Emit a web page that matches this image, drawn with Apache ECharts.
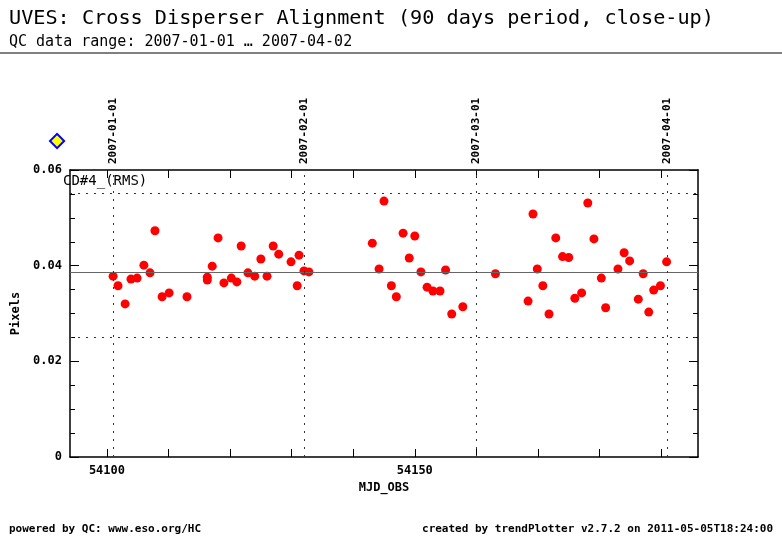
<!DOCTYPE html>
<html><head><meta charset="utf-8">
<script src="https://cdn.jsdelivr.net/npm/echarts@6/dist/echarts.min.js"></script>
<style>body{margin:0;background:#fff}#c{width:782px;height:542px}</style>
</head><body><div id="c"></div>
<script>
const mjd = [54101.0,54101.8,54102.95,54103.9,54104.9,54106.0,54107.0,54107.8,54108.96,54110.1,54113.0,54116.3,54116.3,54117.1,54118.05,54119.0,54120.2,54121.1,54121.8,54122.9,54124.0,54125.0,54126.0,54127.0,54127.9,54129.9,54130.9,54131.2,54132.0,54132.8,54143.1,54144.2,54145.0,54146.2,54147.0,54148.1,54149.1,54150.0,54151.0,54152.0,54152.95,54154.1,54155.0,54156.0,54157.8,54163.1,54168.4,54169.2,54169.9,54170.8,54171.8,54172.9,54174.0,54175.0,54176.0,54177.1,54178.1,54179.1,54180.3,54181.0,54183.0,54184.0,54184.9,54186.3,54187.1,54188.0,54188.8,54189.9,54190.9];
const rms = [0.0378,0.0358,0.0320,0.0372,0.0374,0.0401,0.0385,0.0473,0.0335,0.0343,0.0335,0.0376,0.0370,0.0399,0.0458,0.0364,0.0374,0.0366,0.0441,0.0385,0.0378,0.0414,0.0378,0.0441,0.0424,0.0408,0.0358,0.0422,0.0389,0.0387,0.0447,0.0393,0.0535,0.0358,0.0335,0.0468,0.0416,0.0462,0.0387,0.0355,0.0347,0.0347,0.0391,0.0299,0.0314,0.0383,0.0326,0.0508,0.0393,0.0358,0.0299,0.0458,0.0419,0.0417,0.0332,0.0343,0.0531,0.0456,0.0374,0.0312,0.0393,0.0427,0.0410,0.0330,0.0383,0.0303,0.0349,0.0358,0.0408];
const dateLines = [[54101,'2007-01-01'],[54132,'2007-02-01'],[54160,'2007-03-01'],[54191,'2007-04-01']];
const meanVal = 0.0387, upperLim = 0.0552, lowerLim = 0.0251;
const xTicks = [54100,54110,54120,54130,54140,54150,54160,54170,54180,54190];
const xLabels = [54100,54150];

const chart = echarts.init(document.getElementById('c'));
const mono = 'DejaVu Sans Mono';
const bold = {fontFamily:mono,fontSize:12,fontWeight:'bold',color:'#000'};
const xBase = {type:'value',min:54094,max:54196,splitLine:{show:false},
  axisLine:{show:true,onZero:false,lineStyle:{color:'#000',width:1.5}},
  axisTick:{customValues:xTicks,inside:true,length:8,lineStyle:{color:'#000'}}};
const yBase = {type:'value',min:0,max:0.06,interval:0.02,splitLine:{show:false},
  axisLine:{show:true,onZero:false,lineStyle:{color:'#000',width:1.5}},
  axisTick:{inside:true,length:9,lineStyle:{color:'#000'}},
  minorTick:{show:true,splitNumber:4,length:5,lineStyle:{color:'#000'}}};
chart.setOption({
  animation:false,
  title:[
    {text:'UVES: Cross Disperser Alignment (90 days period, close-up)',left:4,top:4,textStyle:{fontFamily:mono,fontSize:20.2,fontWeight:'normal',color:'#000'}},
    {text:'QC data range: 2007-01-01 … 2007-04-02',left:4,top:30,textStyle:{fontFamily:mono,fontSize:15,fontWeight:'normal',color:'#000'}},
    {text:'powered by QC: www.eso.org/HC',left:4,top:519,textStyle:{fontFamily:mono,fontSize:11,fontWeight:'bold',color:'#000'}},
    {text:'created by trendPlotter v2.7.2 on 2011-05-05T18:24:00',right:4,top:519,textStyle:{fontFamily:mono,fontSize:11,fontWeight:'bold',color:'#000'}}
  ],
  graphic:[
    {type:'line',shape:{x1:0,y1:53,x2:782,y2:53},style:{stroke:'#000',lineWidth:1}},
    {type:'rect',rotation:Math.PI/4,x:50,y:141,shape:{x:0,y:0,width:10,height:10},style:{fill:'#ffff00',stroke:'#0000ff',lineWidth:2}},
    {type:'text',left:63,top:174,style:{text:'CD#4_(RMS)',font:'14px DejaVu Sans Mono',fill:'#000'}}
  ],
  grid:{left:70,right:84,top:170,bottom:85},
  xAxis:[
    Object.assign({},xBase,{position:'bottom',name:'MJD_OBS',nameLocation:'middle',nameGap:22,nameTextStyle:bold,
      axisLabel:Object.assign({customValues:xLabels,margin:8,formatter:v=>String(v)},bold)}),
    Object.assign({},xBase,{position:'top',axisLabel:{show:false}})
  ],
  yAxis:[
    Object.assign({},yBase,{position:'left',name:'Pixels',nameLocation:'middle',nameGap:38,nameTextStyle:bold,
      axisLabel:Object.assign({formatter:v=>v===0?'0':v.toFixed(2)},bold)}),
    Object.assign({},yBase,{position:'right',axisLabel:{show:false}})
  ],
  series:[{type:'scatter',data:mjd.map((m,i)=>[m,rms[i]]),symbolSize:9,itemStyle:{color:'#ff0000',opacity:1},
    markLine:{silent:true,symbol:'none',precision:4,animation:false,data:[
      {yAxis:meanVal,lineStyle:{color:'#666',type:'solid',width:1.2},label:{show:false}},
      {yAxis:upperLim,lineStyle:{color:'#333',type:[2,6],width:1},label:{show:false}},
      {yAxis:lowerLim,lineStyle:{color:'#333',type:[2,6],width:1},label:{show:false}},
      ...dateLines.map(d=>({xAxis:d[0],lineStyle:{color:'#333',type:[2,6],width:1},
        label:{show:true,position:'end',formatter:d[1],rotate:90,align:'left',verticalAlign:'middle',distance:6,
          fontFamily:mono,fontSize:11,fontWeight:'bold',color:'#000'}}))
    ]}}]
});
</script></body></html>
